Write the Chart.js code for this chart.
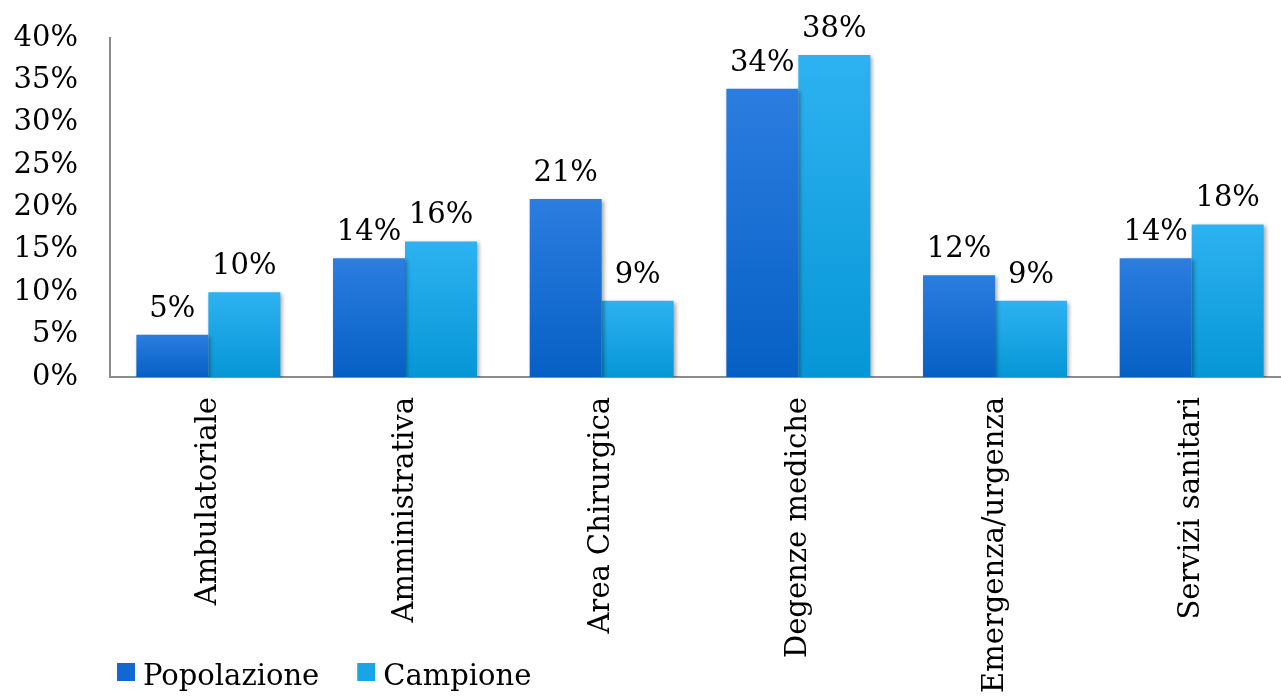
<!DOCTYPE html>
<html>
<head>
<meta charset="utf-8">
<script src="https://cdn.jsdelivr.net/npm/chart.js@4"></script>
<style>
  html, body { margin: 0; padding: 0; background: #fff; overflow: hidden; }
  #chart { display: block; }
</style>
</head>
<body>
<canvas id="chart" width="1300" height="697"></canvas>
<script>
const categories = ['Ambulatoriale', 'Amministrativa', 'Area Chirurgica', 'Degenze mediche', 'Emergenza/urgenza', 'Servizi sanitari'];
const popolazione = [5, 14, 21, 34, 12, 14];
const campione = [10, 16, 9, 38, 9, 18];
const yTicks = [0, 5, 10, 15, 20, 25, 30, 35, 40];

const FONT = "'DejaVu Serif', serif";
const FONT_SIZE = 29;

// vertical gradient per bar, lighter at the top
function barGradient(top, bottom) {
    return function (ctx) {
        const chart = ctx.chart;
        const y = chart.scales.y;
        if (!chart.chartArea || !y || ctx.parsed === undefined) return bottom;
        const yTop = y.getPixelForValue(ctx.parsed.y);
        const yBase = y.getPixelForValue(0);
        const g = chart.ctx.createLinearGradient(0, yTop, 0, yBase);
        g.addColorStop(0, top);
        g.addColorStop(1, bottom);
        return g;
    };
}

const colors = [
    { top: '#2c7de0', bottom: '#0660c4', legend: '#1268d0' },
    { top: '#2eb2f1', bottom: '#0696d6', legend: '#18a5e6' }
];

// value labels above each bar
const valueLabels = {
    id: 'valueLabels',
    afterDatasetsDraw(chart) {
        const ctx = chart.ctx;
        ctx.save();
        ctx.font = FONT_SIZE + 'px ' + FONT;
        ctx.fillStyle = '#000';
        ctx.textAlign = 'center';
        ctx.textBaseline = 'alphabetic';
        chart.data.datasets.forEach((ds, i) => {
            chart.getDatasetMeta(i).data.forEach((bar, j) => {
                ctx.fillText(ds.data[j] + '%', bar.x, bar.y - 18);
            });
        });
        ctx.restore();
    }
};

// soft shadow under the bars
const barShadow = {
    id: 'barShadow',
    beforeDatasetsDraw(chart) {
        const ctx = chart.ctx;
        ctx.save();
        ctx.shadowColor = 'rgba(0,0,0,0.35)';
        ctx.shadowBlur = 4;
        ctx.shadowOffsetX = 2;
        ctx.shadowOffsetY = 2;
    },
    afterDatasetsDraw(chart) {
        chart.ctx.restore();
    }
};

// legend at the bottom left
const bottomLegend = {
    id: 'bottomLegend',
    afterDraw(chart) {
        const ctx = chart.ctx;
        ctx.save();
        ctx.font = FONT_SIZE + 'px ' + FONT;
        ctx.textBaseline = 'alphabetic';
        ctx.textAlign = 'left';
        let x = 117;
        const baseline = 685;
        chart.data.datasets.forEach((ds, i) => {
            ctx.fillStyle = colors[i].legend;
            ctx.fillRect(x, 663, 18, 18);
            ctx.fillStyle = '#000';
            ctx.fillText(ds.label, x + 26, baseline);
            x += 26 + ctx.measureText(ds.label).width + 38;
        });
        ctx.restore();
    }
};

new Chart(document.getElementById('chart'), {
    type: 'bar',
    data: {
        labels: categories,
        datasets: [
            { label: 'Popolazione', data: popolazione, backgroundColor: barGradient(colors[0].top, colors[0].bottom) },
            { label: 'Campione', data: campione, backgroundColor: barGradient(colors[1].top, colors[1].bottom) }
        ]
    },
    options: {
        responsive: false,
        animation: false,
        layout: { padding: { top: 38, right: 10, left: 0, bottom: 0 } },
        datasets: {
            bar: { categoryPercentage: 0.732, barPercentage: 1.0 }
        },
        scales: {
            x: {
                grid: { display: false, drawTicks: false },
                border: { color: '#8c8c8c', width: 2 },
                ticks: {
                    color: '#000',
                    font: { family: FONT, size: FONT_SIZE },
                    maxRotation: 90,
                    minRotation: 90,
                    padding: 20,
                    autoSkip: false
                },
                afterFit(scale) {
                    scale.height = 320;
                    scale.paddingLeft = 0;
                    scale.paddingRight = 0;
                }
            },
            y: {
                min: 0,
                max: 40,
                grid: { display: false, drawTicks: false },
                border: { color: '#8c8c8c', width: 2 },
                afterBuildTicks(scale) { scale.ticks = yTicks.map(v => ({ value: v })); },
                ticks: {
                    color: '#000',
                    font: { family: FONT, size: FONT_SIZE },
                    padding: 32,
                    callback: v => v + '%'
                },
                afterFit(scale) {
                    scale.width = 110;
                    scale.paddingTop = 0;
                    scale.paddingBottom = 0;
                }
            }
        },
        plugins: {
            legend: { display: false },
            tooltip: { enabled: false }
        }
    },
    plugins: [barShadow, valueLabels, bottomLegend]
});
</script>
</body>
</html>
